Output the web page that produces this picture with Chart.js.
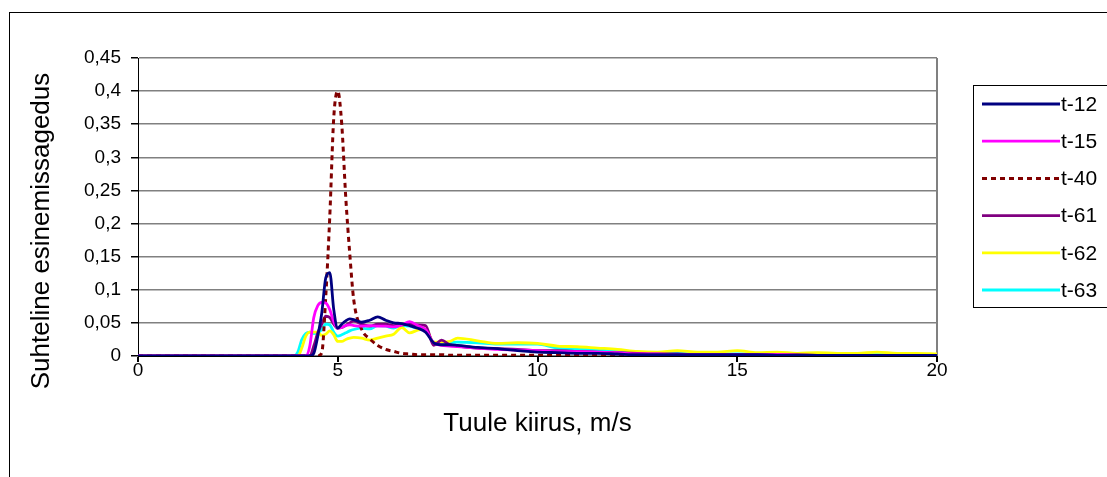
<!DOCTYPE html>
<html>
<head>
<meta charset="utf-8">
<title>Tuule kiirus</title>
<script src="https://cdn.jsdelivr.net/npm/chart.js@4.4.1/dist/chart.umd.min.js"></script>
<style>
  html, body { margin: 0; padding: 0; background: #fff; overflow: hidden; }
  #frame { position: absolute; left: 9px; top: 12px; width: 1300px; height: 700px;
           border-left: 1px solid #000; border-top: 1px solid #000; }
  #wrap { position: absolute; left: 0; top: 0; width: 1107px; height: 477px; }
</style>
</head>
<body>
<div id="frame"></div>
<div id="wrap"><canvas id="chart" width="1107" height="477"></canvas></div>
<script>
// wind speed, m/s (shared x values for every series)
const speeds = [0, 3.9, 4.0, 4.1, 4.2, 4.3, 4.4, 4.5, 4.6, 4.7, 4.8, 4.9, 5.0, 5.1, 5.2, 5.3, 5.4,
  5.6, 5.8, 6.0, 6.2, 6.4, 6.6, 6.8, 7.0, 7.2, 7.4, 7.6, 7.8, 8.0,
  8.5, 9.0, 9.5, 10.0, 10.5, 11.0, 11.5, 12.0, 12.5, 13.0, 13.5, 14.0, 14.5, 15.0,
  15.5, 16.0, 16.5, 17.0, 17.5, 18.0, 18.5, 19.0, 19.5, 20.0];

const t12 = [0, 0, 0, 0, 0, 0, 0.004, 0.03, 0.065, 0.118, 0.126, 0.07, 0.042, 0.048, 0.053, 0.056, 0.055,
  0.051, 0.054, 0.059, 0.054, 0.05, 0.049, 0.046, 0.042, 0.036, 0.02, 0.017, 0.017, 0.016,
  0.013, 0.011, 0.008, 0.006, 0.005, 0.004, 0.004, 0.003, 0.002, 0.002, 0.002, 0.002, 0.002, 0.002,
  0.002, 0.001, 0.001, 0.001, 0.001, 0.001, 0.001, 0.001, 0.001, 0.001];

const t15 = [0, 0, 0, 0, 0, 0.015, 0.058, 0.076, 0.081, 0.08, 0.07, 0.052, 0.042, 0.043, 0.046, 0.047, 0.046,
  0.045, 0.046, 0.045, 0.045, 0.044, 0.047, 0.052, 0.046, 0.04, 0.02, 0.016, 0.015, 0.014,
  0.012, 0.01, 0.009, 0.008, 0.0065, 0.0065, 0.006, 0.005, 0.003, 0.003, 0.002, 0.002, 0.002, 0.002,
  0.002, 0.002, 0.001, 0.001, 0.001, 0.001, 0.001, 0.001, 0.001, 0.001];

const t40 = [0, 0, 0, 0, 0, 0, 0, 0, 0.005, 0.09, 0.21, 0.36, 0.40, 0.35, 0.24, 0.155, 0.085,
  0.04, 0.026, 0.016, 0.01, 0.007, 0.004, 0.003, 0.002, 0.002, 0.002, 0.002, 0.001, 0.001,
  0.001, 0.001, 0.001, 0.001, 0.001, 0.001, 0.001, 0.001, 0, 0, 0, 0, 0, 0,
  0, 0, 0, 0, 0, 0, 0, 0, 0, 0];

const t61 = [0, 0, 0, 0, 0, 0, 0.015, 0.035, 0.048, 0.06, 0.058, 0.048, 0.042, 0.043, 0.046, 0.05, 0.053,
  0.048, 0.045, 0.048, 0.048, 0.046, 0.047, 0.048, 0.047, 0.046, 0.016, 0.024, 0.017, 0.015,
  0.012, 0.011, 0.01, 0.008, 0.008, 0.007, 0.006, 0.005, 0.004, 0.003, 0.003, 0.002, 0.002, 0.002,
  0.002, 0.002, 0.002, 0.001, 0.001, 0.001, 0.001, 0.001, 0.001, 0.001];

const t62 = [0, 0, 0, 0.012, 0.03, 0.036, 0.036, 0.036, 0.031, 0.033, 0.038, 0.032, 0.022, 0.022, 0.025, 0.027, 0.028,
  0.027, 0.024, 0.027, 0.03, 0.033, 0.043, 0.035, 0.039, 0.041, 0.021, 0.021, 0.022, 0.027,
  0.023, 0.019, 0.02, 0.019, 0.015, 0.014, 0.012, 0.01, 0.007, 0.006, 0.008, 0.006, 0.006, 0.008,
  0.005, 0.006, 0.004, 0.005, 0.004, 0.004, 0.006, 0.004, 0.004, 0.003];

const t63 = [0, 0, 0.006, 0.025, 0.034, 0.036, 0.034, 0.035, 0.04, 0.048, 0.047, 0.036, 0.03, 0.032, 0.035, 0.038, 0.04,
  0.042, 0.041, 0.046, 0.045, 0.042, 0.046, 0.045, 0.042, 0.04, 0.021, 0.02, 0.02, 0.021,
  0.02, 0.018, 0.018, 0.018, 0.012, 0.011, 0.009, 0.008, 0.005, 0.004, 0.004, 0.003, 0.003, 0.003,
  0.003, 0.003, 0.002, 0.002, 0.002, 0.002, 0.002, 0.002, 0.002, 0.002];

const seriesNames = ['t-12', 't-15', 't-40', 't-61', 't-62', 't-63'];
const seriesValues = [t12, t15, t40, t61, t62, t63];
const seriesColors = ['#000080', '#ff00ff', '#800000', '#800080', '#ffff00', '#00ffff'];

const yTitle = 'Suhteline esinemissagedus';
const xTitle = 'Tuule kiirus, m/s';

const fontFamily = '"Liberation Sans", Arial, sans-serif';

function toPoints(values) {
  return values.map((v, i) => ({ x: speeds[i], y: v }));
}

function commaNumber(value) {
  return String(+value.toFixed(2)).replace('.', ',');
}

// legend drawn as an Excel-like framed box on the right, plus the y title
const boxLegend = {
  id: 'boxLegend',
  afterDraw(chart) {
    const ctx = chart.ctx;
    ctx.save();
    ctx.strokeStyle = '#000';
    ctx.lineWidth = 1;
    ctx.strokeRect(973.5, 85.5, 150, 222);
    chart.data.datasets.forEach((ds, i) => {
      const y = 104 + i * 37.2;
      ctx.beginPath();
      ctx.strokeStyle = ds.borderColor;
      ctx.lineWidth = ds.borderWidth;
      ctx.setLineDash(ds.borderDash || []);
      ctx.moveTo(982, y);
      ctx.lineTo(1060, y);
      ctx.stroke();
      ctx.setLineDash([]);
      ctx.fillStyle = '#000';
      ctx.font = '21px ' + fontFamily;
      ctx.textBaseline = 'middle';
      ctx.fillText(ds.label, 1061, y + 1);
    });

    // y axis title (Excel centres it a bit lower than the plot middle)
    ctx.translate(42, 231);
    ctx.rotate(-Math.PI / 2);
    ctx.font = '26px ' + fontFamily;
    ctx.textAlign = 'center';
    ctx.textBaseline = 'middle';
    ctx.fillText(yTitle, 0, 0);
    ctx.restore();
  }
};

const datasets = seriesNames.map((name, i) => ({
  label: name,
  data: toPoints(seriesValues[i]),
  borderColor: seriesColors[i],
  backgroundColor: seriesColors[i],
  borderWidth: name === 't-40' ? 3 : 2.8,
  borderDash: name === 't-40' ? [5, 4] : [],
  pointRadius: 0,
  fill: false,
  cubicInterpolationMode: 'monotone',
}));

new Chart(document.getElementById('chart'), {
  type: 'line',
  data: { datasets },
  plugins: [boxLegend],
  options: {
    responsive: false,
    animation: false,
    layout: { padding: { left: 0, top: 58, right: 170, bottom: 0 } },
    plugins: {
      legend: { display: false },
      tooltip: { enabled: false },
    },
    scales: {
      x: {
        type: 'linear',
        min: 0,
        max: 20,
        afterFit: (scale) => { scale.height = 121; },
        ticks: { stepSize: 5, color: '#000', font: { family: fontFamily, size: 19 }, padding: -3 },
        grid: {
          color: (c) => (c.tick && c.tick.value === 20 ? '#808080' : 'rgba(0,0,0,0)'),
          tickColor: '#000',
          tickLength: 6,
          lineWidth: 2,
        },
        border: { color: '#000', width: 1 },
        title: {
          display: true,
          text: xTitle,
          color: '#000',
          font: { family: fontFamily, size: 26 },
          padding: { top: 0, bottom: 38 },
        },
      },
      y: {
        min: 0,
        max: 0.45,
        afterFit: (scale) => { scale.width = 138; },
        ticks: {
          stepSize: 0.05,
          color: '#000',
          font: { family: fontFamily, size: 19 },
          padding: 10,
          callback: (value) => commaNumber(value),
        },
        grid: { color: '#808080', tickColor: '#000', tickLength: 7, lineWidth: 1.5 },
        border: { color: '#000', width: 1 },
      },
    },
  },
});
</script>
</body>
</html>
